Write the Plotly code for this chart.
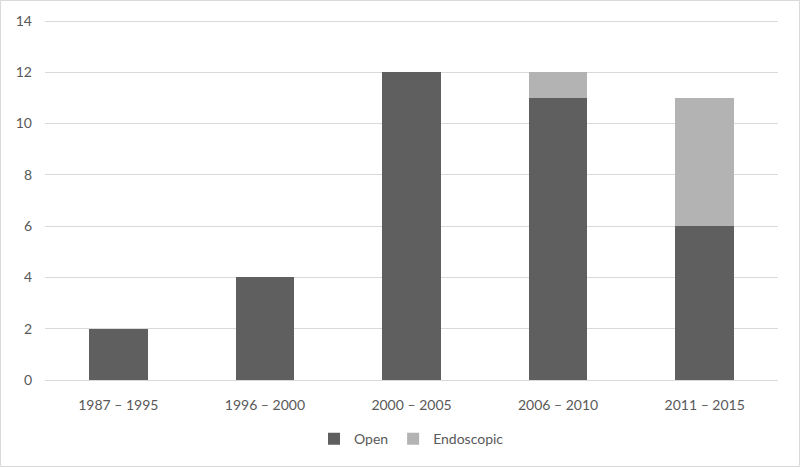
import plotly.graph_objects as go

periods = ["1987 – 1995", "1996 – 2000", "2000 – 2005", "2006 – 2010", "2011 – 2015"]
open_counts = [2, 4, 12, 11, 6]
endoscopic_counts = [0, 0, 0, 1, 5]

fig = go.Figure()
fig.add_trace(go.Bar(x=periods, y=open_counts, name="Open",
                     marker=dict(color="#5f5f5f", line=dict(width=0))))
fig.add_trace(go.Bar(x=periods, y=endoscopic_counts, name="Endoscopic",
                     marker=dict(color="#b3b3b3", line=dict(width=0))))

fig.update_layout(
    barmode="stack",
    bargap=0.6,
    width=800, height=467,
    margin=dict(l=45, r=22, t=20, b=87),
    plot_bgcolor="white",
    paper_bgcolor="white",
    font=dict(family="Lato, Liberation Sans, sans-serif", size=14, color="#595959"),
    xaxis=dict(showgrid=False, showline=True, linecolor="#d9d9d9", linewidth=1,
               ticks="", tickfont=dict(size=14), ticklabelstandoff=12),
    yaxis=dict(range=[0, 14.04], tick0=0, dtick=2, showgrid=True, gridcolor="#d9d9d9",
               zeroline=False, showline=False, tickfont=dict(size=14),
               ticklabelstandoff=12),
    legend=dict(orientation="h", x=0.5, xanchor="center", y=-0.12, yanchor="top",
                font=dict(size=14), itemwidth=30, traceorder="normal"),
    shapes=[dict(type="rect", xref="paper", yref="paper", x0=-44.5/733, x1=1 + 21.5/733,
                 y0=-86.5/360, y1=1 + 19.5/360, line=dict(color="#d9d9d9", width=1))],
)

# drop the default page margin so the chart sits at the window's corner
fig.write_html("out.html", config={"displayModeBar": False},
               post_script="document.body.style.margin='0';")
